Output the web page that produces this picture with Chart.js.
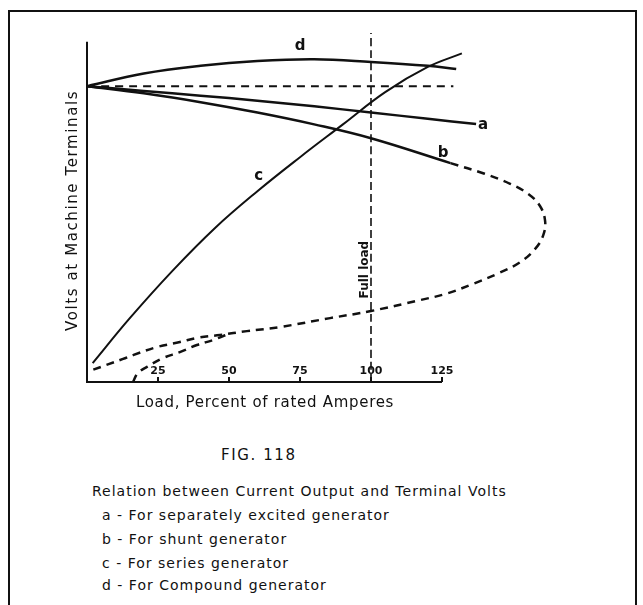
<!DOCTYPE html>
<html>
<head>
<meta charset="utf-8">
<script src="https://cdn.jsdelivr.net/npm/chart.js@4"></script>
<style>
  html, body { margin: 0; padding: 0; width: 643px; height: 605px; overflow: hidden; background: #fff; }
  #frame { position: absolute; left: 8px; top: 10px; width: 625px; height: 640px; border: 2px solid #111; border-bottom: none; }
  #chart { position: absolute; left: 0; top: 0; }
  .cap { position: absolute; font-family: "DejaVu Sans", sans-serif; font-size: 14px; line-height: 18px; letter-spacing: 1px; color: #111; white-space: nowrap; }
</style>
</head>
<body>
<div id="frame"></div>
<canvas id="chart" width="643" height="420"></canvas>
<div class="cap" style="left:221px;top:446px;font-size:15px;letter-spacing:1.6px">FIG. 118</div>
<div class="cap" style="left:92px;top:482px">Relation between Current Output and Terminal Volts</div>
<div class="cap" style="left:102px;top:506px">a - For separately excited generator</div>
<div class="cap" style="left:102px;top:530px">b - For shunt generator</div>
<div class="cap" style="left:102px;top:554px">c - For series generator</div>
<div class="cap" style="left:102px;top:576px">d - For Compound generator</div>
<script>
// load in percent of rated amperes, volts in percent of no-load volts
const loadA = [0, 20, 40, 60, 80, 100, 120, 137];
const voltsA = [100, 98.4, 96.8, 95.1, 93.2, 91.1, 89, 87.2];

const loadB = [0, 20, 40, 60, 80, 100, 128];
const voltsB = [100, 97.6, 94.6, 91.1, 87.1, 82.4, 74];

// shunt curve beyond its limit (dashed loop back toward short circuit)
const loadBLoop = [128, 140, 149, 155.5, 159.5, 161.3, 160.6, 157.8, 152.5, 145, 136, 126.7, 117.3, 100, 85.6, 68, 56.3, 46.8, 38.7, 32.7, 24.6, 16.2, 12.7, 2];
const voltsBLoop = [74, 70.4, 67, 63.5, 59.5, 54.5, 49.5, 45, 40.5, 36.8, 33.2, 29.9, 27.7, 24, 21.6, 18.6, 17.2, 15.9, 14.9, 13.5, 11.8, 9.1, 7.8, 4.1];

const loadLow = [16.2, 17.9, 21.1, 26.8, 32.7, 38.7, 44.4, 50];
const voltsLow = [0, 3, 5.1, 8.1, 10.1, 12.5, 14.2, 16.3];

const loadC = [2, 15, 30, 45, 60, 75, 90, 105, 120, 132];
const voltsC = [6.4, 21.5, 37.5, 52, 64.5, 76, 87, 98, 106.5, 111.1];

const loadD = [0, 20, 40, 60, 80, 100, 120, 130];
const voltsD = [100, 104.3, 106.9, 108.5, 109.1, 108.2, 106.9, 105.8];

const loadRef = [0, 129];
const voltsRef = [100, 100];

const loadFull = [100, 100];
const voltsFull = [0, 118];

const xTicks = [25, 50, 75, 100, 125];
const xTickLabels = ["25", "50", "75", "100", "125"];

// curve letters: [label, load, volts]
const curveLabels = [["d", 75, 113.5], ["a", 139.5, 86.8], ["b", 125.4, 77.5], ["c", 60.5, 69.5]];

const ink = "#111";

function pts(xs, ys) {
	return xs.map((x, i) => ({ x: x, y: ys[i] }));
}

function line(data, dashed, width) {
	return {
		data: data,
		borderColor: ink,
		borderWidth: width,
		borderDash: dashed ? [8, 6] : [],
		pointRadius: 0,
		tension: 0.4,
		fill: false,
	};
}

const extras = {
	id: "extras",
	afterDatasetsDraw(chart) {
		const c = chart.ctx;
		const xs = chart.scales.x;
		const ys = chart.scales.y;
		const x0 = xs.getPixelForValue(0);
		const y0 = ys.getPixelForValue(0);
		c.save();
		c.strokeStyle = ink;
		c.fillStyle = ink;
		c.lineWidth = 2;
		c.setLineDash([]);
		// axes
		c.beginPath();
		c.moveTo(x0, ys.getPixelForValue(115));
		c.lineTo(x0, y0);
		c.lineTo(xs.getPixelForValue(125), y0);
		c.stroke();
		// ticks and labels above the axis
		c.font = "bold 11px 'DejaVu Sans'";
		c.textAlign = "center";
		c.textBaseline = "middle";
		xTicks.forEach((t, i) => {
			const px = xs.getPixelForValue(t);
			c.beginPath();
			c.moveTo(px, y0);
			c.lineTo(px, y0 - 5);
			c.stroke();
			c.fillText(xTickLabels[i], px, y0 - 11);
		});
		// axis titles
		c.font = "15px 'DejaVu Sans'";
		c.letterSpacing = "0.7px";
		c.fillText("Load, Percent of rated Amperes", 265, y0 + 21);
		c.save();
		c.letterSpacing = "1.6px";
		c.translate(x0 - 14, ys.getPixelForValue(58));
		c.rotate(-Math.PI / 2);
		c.fillText("Volts at Machine Terminals", 0, 0);
		c.restore();
		c.letterSpacing = "0px";
		// curve letters
		c.font = "bold 15px 'DejaVu Sans'";
		curveLabels.forEach(([t, x, y]) => {
			c.fillText(t, xs.getPixelForValue(x), ys.getPixelForValue(y));
		});
		// full load note
		c.save();
		c.font = "bold 12px 'DejaVu Sans'";
		c.translate(xs.getPixelForValue(98), ys.getPixelForValue(38));
		c.rotate(-Math.PI / 2);
		c.fillText("Full load", 0, 0);
		c.restore();
		c.restore();
	},
};

new Chart(document.getElementById("chart"), {
	type: "line",
	data: {
		datasets: [
			line(pts(loadA, voltsA), false, 2.5),
			line(pts(loadB, voltsB), false, 2.5),
			line(pts(loadBLoop, voltsBLoop), true, 2.5),
			line(pts(loadLow, voltsLow), true, 2.5),
			line(pts(loadC, voltsC), false, 2),
			line(pts(loadD, voltsD), false, 2.5),
			line(pts(loadRef, voltsRef), true, 2),
			Object.assign(line(pts(loadFull, voltsFull), true, 1.6), { borderDash: [8, 4] }),
		],
	},
	options: {
		responsive: false,
		animation: false,
		layout: { padding: { left: 87, top: 30, right: 59, bottom: 38 } },
		plugins: { legend: { display: false }, tooltip: { enabled: false } },
		scales: {
			x: {
				type: "linear",
				min: 0,
				max: 175,
				ticks: { display: false },
				grid: { display: false, drawTicks: false },
				border: { display: false },
			},
			y: {
				type: "linear",
				min: 0,
				max: 119,
				ticks: { display: false },
				grid: { display: false, drawTicks: false },
				border: { display: false },
			},
		},
	},
	plugins: [extras],
});
</script>
</body>
</html>
